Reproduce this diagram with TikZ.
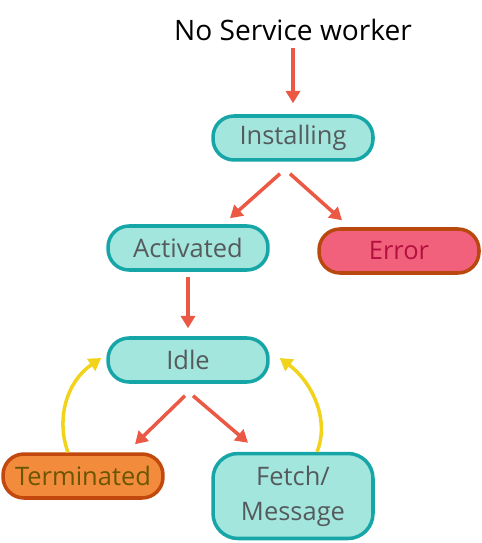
\documentclass[tikz,border=0pt]{standalone}
\usepackage{fontspec}
\setmainfont{Open Sans}
\usepackage{xcolor}
\usetikzlibrary{positioning, arrows.meta, calc}

\definecolor{tealfill}{HTML}{A3E6DD}
\definecolor{tealline}{HTML}{17A6A8}
\definecolor{errfill}{HTML}{F2617C}
\definecolor{errline}{HTML}{B9480E}
\definecolor{errtext}{HTML}{B3103F}
\definecolor{termfill}{HTML}{F28C3C}
\definecolor{termline}{HTML}{C2480E}
\definecolor{termtext}{HTML}{6B5600}
\definecolor{redarrow}{HTML}{EB5844}
\definecolor{yelarrow}{HTML}{F2D31C}
\definecolor{greytext}{HTML}{555A5C}

\begin{document}
\begin{tikzpicture}[x=0.02cm, y=-0.02cm,
        statebox/.style={draw=tealline, fill=tealfill, line width=2pt, rounded corners=0.42cm, minimum width=3.2cm, minimum height=0.88cm, align=center, text=greytext, font=\fontsize{14.5}{17}\selectfont},
        errbox/.style={statebox, draw=errline, fill=errfill, text=errtext},
        termbox/.style={statebox, draw=termline, fill=termfill, text=termtext},
        arrow/.style={-{Triangle[width=8pt, length=7pt]}, redarrow, line width=2pt},
        backarrow/.style={-{Triangle[width=8pt, length=7pt]}, yelarrow, line width=2pt}
    ]

    \useasboundingbox (0,0) rectangle (482,543);

    % ============ STATES ============
    \node[font=\fontsize{16}{19}\selectfont] (nosw) at (293,30) {No Service worker};
    \node[statebox] (installing) at (293,138) {Installing};
    \node[statebox] (activated) at (188,248) {Activated};
    \node[errbox] (error) at (399,251) {Error};
    \node[statebox] (idle) at (188,360) {Idle};
    \node[termbox] (terminated) at (83,476) {Terminated};
    \node[statebox, minimum height=1.7cm, rounded corners=0.5cm] (fetch) at (293,496) {Fetch/\\[3pt]Message};

    % ============ ARROWS ============
    \draw[arrow] ([yshift=-0.36cm]nosw.center) -- ([yshift=0.22cm]installing.north);
    \draw[arrow] ([xshift=-0.26cm, yshift=-0.24cm]installing.south) -- ([xshift=0.84cm, yshift=0.12cm]activated.north);
    \draw[arrow] ([xshift=-0.06cm, yshift=-0.24cm]installing.south) -- ([xshift=-1.14cm, yshift=0.14cm]error.north);
    \draw[arrow] ([yshift=-0.1cm]activated.south) -- ([yshift=0.16cm]idle.north);
    \draw[arrow] ([xshift=-0.06cm, yshift=-0.24cm]idle.south) -- ([xshift=1.04cm, yshift=0.16cm]terminated.north);
    \draw[arrow] ([xshift=0.1cm, yshift=-0.24cm]idle.south) -- ([xshift=-0.9cm, yshift=0.18cm]fetch.north);

    % ============ RETURN ARROWS ============
    \draw[backarrow] ([xshift=-0.3cm]terminated.north) .. controls (56,420) and (66,382) .. ([xshift=-0.1cm, yshift=0.04cm]idle.west);
    \draw[backarrow] ([xshift=0.48cm]fetch.north) .. controls (330,420) and (312,382) .. ([xshift=0.2cm, yshift=0.04cm]idle.east);

\end{tikzpicture}
\end{document}
